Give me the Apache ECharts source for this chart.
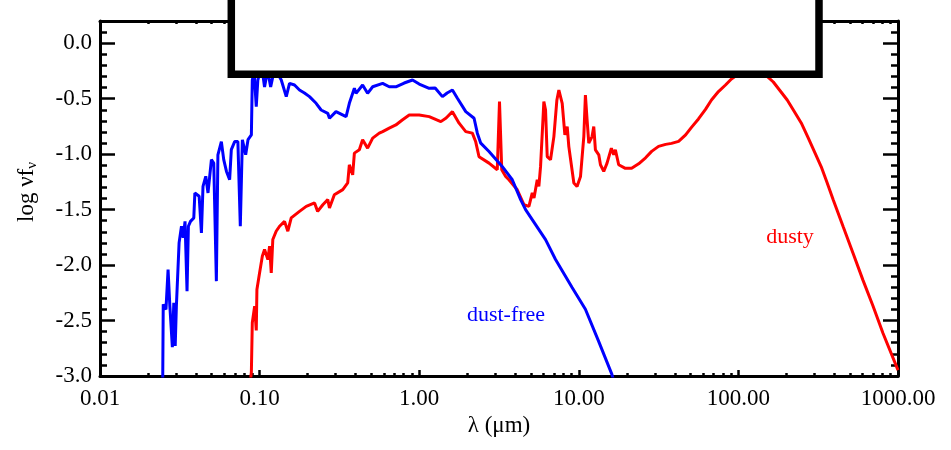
<!DOCTYPE html>
<html><head><meta charset="utf-8">
<script src="https://cdn.jsdelivr.net/npm/echarts@6/dist/echarts.min.js"></script>
<style>html,body{margin:0;padding:0;background:#fff}#c{width:951px;height:450px}</style>
</head><body><div id="c"></div>
<script>
// ---- data (wavelength in micron, log nu f_nu) ----
const blueLambda = [0.0247,0.0249,0.0259,0.0267,0.0274,0.0284,0.0290,0.0296,0.0301,0.0313,0.0324,0.0332,0.0341,0.0351,0.0358,0.0369,0.0387,0.0393,0.0418,0.0432,0.0442,0.0460,0.0475,0.0499,0.0516,0.0536,0.0548,0.0576,0.0596,0.0620,0.0649,0.0665,0.0698,0.0731,0.0757,0.0780,0.0818,0.0846,0.0888,0.0900,0.0924,0.0953,0.0975,0.1029,0.1074,0.1122,0.1173,0.1242,0.1367,0.1469,0.154,0.1655,0.1778,0.191,0.2054,0.226,0.243,0.2674,0.274,0.301,0.3483,0.365,0.3925,0.402,0.442,0.475,0.511,0.590,0.649,0.714,0.805,0.908,1.0,1.155,1.259,1.398,1.496,1.615,1.735,1.958,2.207,2.313,2.43,2.738,3.31,3.83,4.32,4.64,5.36,6.19,7.15,9.08,11.0,13.3,16.1,16.6];
const blueLogF = [-3.1,-2.354,-2.40,-2.04,-2.37,-2.74,-2.34,-2.73,-2.37,-1.80,-1.65,-1.755,-1.606,-2.235,-1.65,-1.606,-1.575,-1.35,-1.38,-1.71,-1.29,-1.20,-1.35,-1.05,-1.08,-2.145,-1.006,-0.887,-1.05,-1.156,-1.23,-0.96,-0.887,-0.887,-1.65,-0.87,-1.006,-0.87,-0.827,-0.332,-0.26,-0.572,-0.332,-0.198,-0.395,-0.243,-0.395,-0.225,-0.332,-0.482,-0.362,-0.377,-0.422,-0.449,-0.482,-0.542,-0.602,-0.632,-0.677,-0.617,-0.662,-0.542,-0.407,-0.452,-0.377,-0.452,-0.393,-0.362,-0.393,-0.393,-0.359,-0.332,-0.368,-0.407,-0.404,-0.482,-0.449,-0.422,-0.497,-0.617,-0.677,-0.811,-0.901,-0.977,-1.111,-1.231,-1.41,-1.50,-1.635,-1.77,-1.95,-2.203,-2.398,-2.686,-2.983,-3.05];

const redLambda = [0.0875,0.0888,0.0900,0.0931,0.0953,0.0962,0.1,0.104,0.1074,0.1127,0.1155,0.1183,0.121,0.127,0.1334,0.1433,0.1503,0.1578,0.1778,0.196,0.221,0.231,0.249,0.2674,0.274,0.294,0.332,0.3565,0.365,0.383,0.3925,0.4217,0.442,0.475,0.511,0.562,0.590,0.649,0.714,0.783,0.866,1.0,1.155,1.366,1.475,1.615,1.778,1.958,2.153,2.26,2.371,2.738,3.084,3.185,3.29,3.483,3.65,4.115,4.53,4.87,5.11,5.24,5.49,5.62,5.76,5.96,6.04,6.19,6.34,6.65,6.98,7.29,7.50,7.87,8.18,8.46,8.66,9.31,9.75,10.25,10.75,11.0,11.27,11.55,12.11,12.41,12.71,13.34,13.67,14.33,15.03,16.0,16.55,16.95,17.78,19.58,21.43,23.71,26.2,28.6,31.6,35.0,38.1,42.2,46.7,50.8,56.2,62.2,67.8,75.0,83.0,90.4,100,110.6,122.4,135.3,149.6,165.5,183,202.3,223.9,247.6,273.8,302.8,330.4,359.7,392.6,453,523.6,604,698.2,805.5,1000];
const redLogF = [-3.05,-2.965,-2.52,-2.37,-2.59,-2.22,-2.07,-1.92,-1.86,-1.95,-1.83,-2.07,-1.77,-1.695,-1.65,-1.606,-1.695,-1.575,-1.516,-1.471,-1.44,-1.516,-1.456,-1.41,-1.485,-1.366,-1.32,-1.26,-1.096,-1.186,-0.991,-0.961,-0.871,-0.946,-0.856,-0.811,-0.797,-0.766,-0.737,-0.692,-0.647,-0.647,-0.662,-0.707,-0.674,-0.617,-0.721,-0.797,-0.811,-0.889,-1.024,-1.081,-1.141,-0.527,-1.141,-1.201,-1.231,-1.321,-1.456,-1.471,-1.35,-1.395,-1.231,-1.291,-1.111,-0.692,-0.527,-0.602,-1.022,-1.051,-0.842,-0.512,-0.422,-0.542,-0.827,-0.752,-0.932,-1.26,-1.291,-1.201,-0.842,-0.467,-0.692,-0.901,-0.842,-0.752,-0.961,-1.006,-1.096,-1.156,-1.081,-0.946,-1.006,-0.961,-1.096,-1.128,-1.128,-1.087,-1.033,-0.975,-0.930,-0.912,-0.903,-0.885,-0.827,-0.759,-0.683,-0.597,-0.512,-0.436,-0.377,-0.323,-0.279,-0.247,-0.234,-0.247,-0.292,-0.350,-0.431,-0.512,-0.615,-0.719,-0.854,-0.993,-1.114,-1.258,-1.411,-1.653,-1.896,-2.138,-2.372,-2.615,-2.947];

const xMajorTicks = [0.01, 0.1, 1, 10, 100, 1000];
const xMinorTicks = [0.02,0.03,0.04,0.05,0.06,0.07,0.08,0.09,0.2,0.3,0.4,0.5,0.6,0.7,0.8,0.9,2,3,4,5,6,7,8,9,20,30,40,50,60,70,80,90,200,300,400,500,600,700,800,900];
const yMajorTicks = [-3, -2.5, -2, -1.5, -1, -0.5, 0];
const yMinorTicks = [-2.9,-2.8,-2.7,-2.6,-2.4,-2.3,-2.2,-2.1,-1.9,-1.8,-1.7,-1.6,-1.4,-1.3,-1.2,-1.1,-0.9,-0.8,-0.7,-0.6,-0.4,-0.3,-0.2,-0.1,0.1,0.2];

const xTitle = 'λ (μm)';
const seriesNames = ['dust-free', 'dusty'];

// ---- chart ----
const FONT = 'Liberation Serif, Times New Roman, serif';
const BLUE = '#0000ff', RED = '#ff0000';

function zip(a, b) { return a.map((v, i) => [v, b[i]]); }

function xAx(pos, ticks, len, withLine, withLabels) {
  const ax = {
    type: 'log', logBase: 10, min: 0.01, max: 1000, position: pos, gridIndex: 0,
    axisLine: { show: withLine, onZero: false, lineStyle: { color: '#000', width: 3 } },
    axisTick: { show: true, inside: true, length: len, customValues: ticks, lineStyle: { color: '#000', width: 2.5 } },
    axisLabel: { show: false },
    splitLine: { show: false }, minorTick: { show: false }, minorSplitLine: { show: false }
  };
  if (withLabels) {
    ax.axisLabel = { show: true, customValues: ticks, formatter: v => Number(v).toFixed(2),
      margin: 11, color: '#000', fontFamily: FONT, fontSize: 23 };
    ax.name = xTitle; ax.nameLocation = 'middle'; ax.nameGap = 38;
    ax.nameTextStyle = { color: '#000', fontFamily: FONT, fontSize: 23 };
  }
  return ax;
}
function yAx(pos, ticks, len, withLine, withLabels) {
  const ax = {
    type: 'value', min: -3, max: 0.2, position: pos, gridIndex: 0,
    axisLine: { show: withLine, onZero: false, lineStyle: { color: '#000', width: 3 } },
    axisTick: { show: true, inside: true, length: len, customValues: ticks, lineStyle: { color: '#000', width: 2.5 } },
    axisLabel: { show: false },
    splitLine: { show: false }, minorTick: { show: false }, minorSplitLine: { show: false }
  };
  if (withLabels) {
    ax.axisLabel = { show: true, customValues: ticks, formatter: v => Number(v).toFixed(1),
      margin: 8, color: '#000', fontFamily: FONT, fontSize: 23 };
  }
  return ax;
}

const chart = echarts.init(document.getElementById('c'), null, { renderer: 'canvas' });
chart.setOption({
  animation: false,
  backgroundColor: '#fff',
  grid: { left: 100, top: 21, width: 798, height: 355, containLabel: false, outerBoundsMode: 'none' },
  xAxis: [
    xAx('bottom', xMajorTicks, 6, true, true),
    xAx('bottom', xMinorTicks, 3, false, false),
    xAx('top', xMajorTicks, 6, true, false),
    xAx('top', xMinorTicks, 3, false, false)
  ],
  yAxis: [
    yAx('left', yMajorTicks, 15, true, true),
    yAx('left', yMinorTicks, 7, false, false),
    yAx('right', yMajorTicks, 15, true, false),
    yAx('right', yMinorTicks, 7, false, false)
  ],
  series: [
    { name: seriesNames[0], type: 'line', xAxisIndex: 0, yAxisIndex: 0, data: zip(blueLambda, blueLogF),
      showSymbol: false, symbol: 'none', clip: true, lineStyle: { color: BLUE, width: 3 }, z: 3 },
    { name: seriesNames[1], type: 'line', xAxisIndex: 0, yAxisIndex: 0, data: zip(redLambda, redLogF),
      showSymbol: false, symbol: 'none', clip: true, lineStyle: { color: RED, width: 3 }, z: 2 }
  ],
  graphic: [
    { type: 'rect', z: 100, shape: { x: 231.3, y: -30, width: 587.7, height: 104.2 },
      style: { fill: '#fff', stroke: '#000', lineWidth: 7.5 } },
    { type: 'text', z: 100, x: 27, y: 192, rotation: Math.PI / 2,
      style: { text: 'log νf{s|ν}', fill: '#000', fontFamily: FONT, fontSize: 23, align: 'center', verticalAlign: 'middle',
        rich: { s: { fontSize: 15, fontFamily: FONT, fill: '#000', verticalAlign: 'bottom', padding: [10, 0, 0, 0] } } } },
    { type: 'text', z: 100, x: 506, y: 315,
      style: { text: seriesNames[0], fill: BLUE, fontFamily: FONT, fontSize: 22, align: 'center', verticalAlign: 'middle' } },
    { type: 'text', z: 100, x: 790, y: 237,
      style: { text: seriesNames[1], fill: RED, fontFamily: FONT, fontSize: 22, align: 'center', verticalAlign: 'middle' } }
  ]
});
</script></body></html>
